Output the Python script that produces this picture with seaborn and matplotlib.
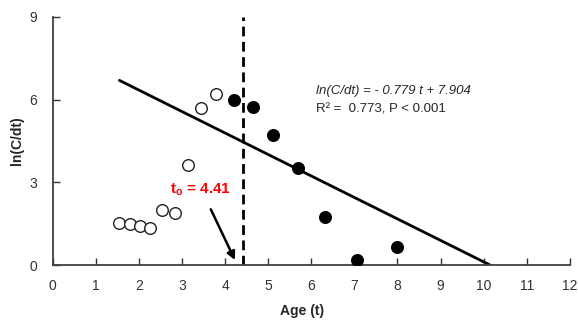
import numpy as np
import matplotlib
matplotlib.use("Agg")
import matplotlib.pyplot as plt
import seaborn as sns

# open circles (pre-t0 ages) and filled circles (post-t0 ages)
open_age = [1.55, 1.79, 2.03, 2.27, 2.54, 2.84, 3.13, 3.45, 3.80]
open_lncdt = [1.53, 1.49, 1.41, 1.35, 1.99, 1.90, 3.62, 5.68, 6.22]
fill_age = [4.21, 4.65, 5.12, 5.70, 6.32, 7.07, 8.00]
fill_lncdt = [6.00, 5.74, 4.71, 3.53, 1.75, 0.18, 0.64]

slope = -0.779
intercept = 7.904
fit_range = [1.55, 10.146]
t0 = 4.41

sns.set_style("ticks")
plt.rcParams['font.family'] = ['Liberation Sans', 'DejaVu Sans']

fig = plt.figure(figsize=(5.78, 3.24), dpi=100)
ax = fig.add_axes([0.091, 0.182, 0.895, 0.766])

fit_x = np.array(fit_range)
fit_y = slope * fit_x + intercept
sns.lineplot(x=fit_x, y=fit_y, ax=ax, color="black", linewidth=2.0)

sns.scatterplot(x=open_age, y=open_lncdt, ax=ax, s=70, facecolor="white",
                edgecolor="#222222", linewidth=1.0, zorder=3)
sns.scatterplot(x=fill_age, y=fill_lncdt, ax=ax, s=70, color="black",
                edgecolor="black", linewidth=1.0, zorder=3)

ax.plot([t0, t0], [0, 9], color="black", linestyle=(0, (3.5, 2)), linewidth=2.0,
        clip_on=False)

ax.annotate("", xy=(4.23, 0.18), xytext=(3.67, 2.02),
            arrowprops=dict(arrowstyle="-|>", color="black", lw=1.8,
                            mutation_scale=12, shrinkA=0, shrinkB=0))
ax.text(3.42, 2.72, r"t$_\mathregular{o}$ = 4.41", color="#ff0000",
        fontweight="bold", fontsize=11, ha="center", va="center")

ax.text(6.12, 6.32, "ln(C/dt) = - 0.779 t + 7.904", fontstyle="italic",
        fontsize=9.5, ha="left", va="center")
ax.text(6.12, 5.65, "R\u00b2 =  0.773, P < 0.001", fontsize=9.5,
        ha="left", va="center")

ax.set_xlim(0, 12)
ax.set_ylim(0, 9)
ax.set_xticks(range(0, 13))
ax.set_yticks([0, 3, 6, 9])
ax.tick_params(axis="both", direction="in", length=5, width=1.0,
               labelsize=10, colors="#333333")
ax.tick_params(axis="x", pad=10)
ax.tick_params(axis="y", pad=11)
sns.despine(ax=ax)
for side in ["left", "bottom"]:
    ax.spines[side].set_linewidth(1.3)
    ax.spines[side].set_color("#404040")

ax.set_xlabel("Age (t)", fontweight="bold", fontsize=10, labelpad=9)
ax.xaxis.set_label_coords(0.482, -0.155)
ax.set_ylabel("ln(C/dt)", fontweight="bold", fontsize=10, labelpad=4)

fig.savefig("out.png", dpi=100)
